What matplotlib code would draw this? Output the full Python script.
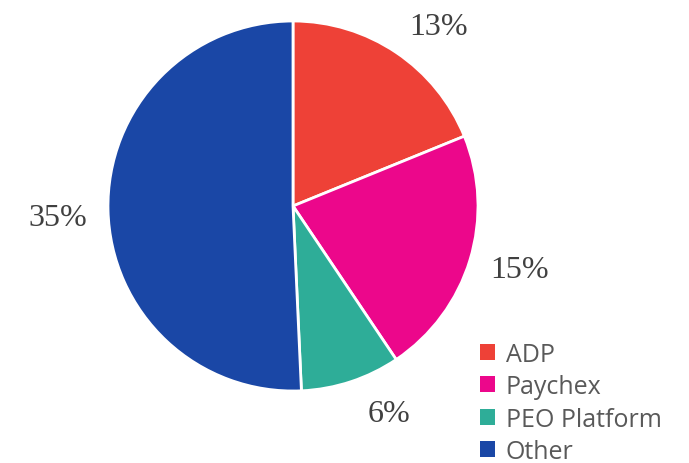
import matplotlib.pyplot as plt
from matplotlib.patches import Patch

categories = ['ADP', 'Paychex', 'PEO Platform', 'Other']
values = [13, 15, 6, 35]
pct_labels = ['13%', '15%', '6%', '35%']
colors = ['#EE4137', '#EC078B', '#2EAD98', '#1A47A6']

fig = plt.figure(figsize=(6.89, 4.64), dpi=100)
ax = fig.add_axes([108 / 689, 72 / 464, 370 / 689, 370 / 464])

wedges, texts = ax.pie(values, labels=pct_labels, colors=colors, startangle=90,
                       counterclock=False, labeldistance=1.27,
                       wedgeprops=dict(edgecolor='white', linewidth=2),
                       textprops=dict(family='Liberation Serif', size=23, color='#404040'))

# small nudges so the labels sit where the original has them
nudges = [(0.076, -0.081), (0.01, 0.027), (0.119, 0.086), (0.0, -0.032)]
for t, (dx, dy) in zip(texts, nudges):
    x, y = t.get_position()
    t.set_position((x + dx, y + dy))
    t.set_ha('center')
    t.set_va('center')

ax.set_xlim(-1, 1)
ax.set_ylim(-1, 1)
ax.set_aspect('equal')

handles = [Patch(facecolor=c, edgecolor='none') for c in colors]
fig.legend(handles, categories, loc='lower left', bbox_to_anchor=(457 / 689, -0.051),
           frameon=False, handlelength=0.6, handleheight=0.6,
           handletextpad=0.45, labelspacing=0.3, labelcolor='#595959',
           prop={'family': 'Open Sans', 'size': 18})

fig.savefig('out.png', dpi=100)
